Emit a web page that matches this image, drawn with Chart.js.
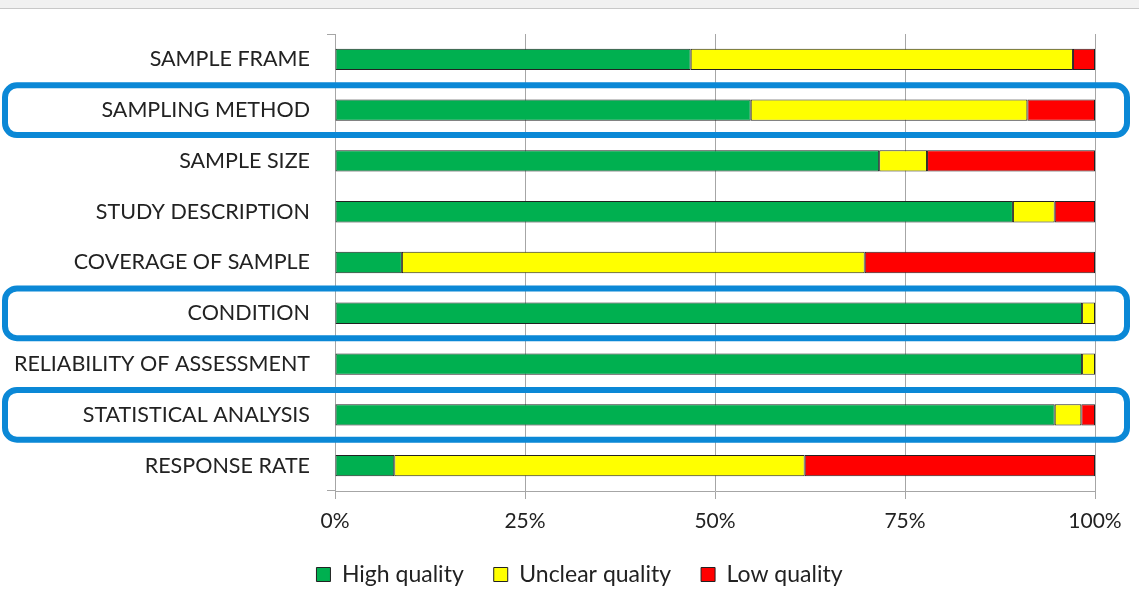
<!DOCTYPE html>
<html>
<head>
<meta charset="utf-8">
<script src="https://cdn.jsdelivr.net/npm/chart.js@4"></script>
<style>
  html, body { margin: 0; padding: 0; background: #fff; }
  #wrap { position: relative; width: 1139px; height: 605px; }
</style>
</head>
<body>
<div id="wrap"><canvas id="qualityChart"></canvas></div>
<script>
// Criteria shown on the y axis (top to bottom)
const criteria = [
  "SAMPLE FRAME",
  "SAMPLING METHOD",
  "SAMPLE SIZE",
  "STUDY DESCRIPTION",
  "COVERAGE OF SAMPLE",
  "CONDITION",
  "RELIABILITY OF ASSESSMENT",
  "STATISTICAL ANALYSIS",
  "RESPONSE RATE",
];

// Share of studies per rating, in percent
const highQuality = [46.8, 54.7, 71.6, 89.2, 8.8, 98.3, 98.3, 94.7, 7.8];
const unclearQuality = [50.3, 36.4, 6.3, 5.5, 60.9, 1.7, 1.7, 3.5, 54.0];
const lowQuality = [2.9, 8.9, 22.1, 5.3, 30.3, 0, 0, 1.8, 38.2];

// x axis ticks
const percentTicks = [0, 25, 50, 75, 100];

// Rows that are boxed in blue
const highlightedRows = ["SAMPLING METHOD", "CONDITION", "STATISTICAL ANALYSIS"];

const FONT = "Lato, 'Liberation Sans', sans-serif";
const AXIS_GRAY = "#a6a6a6";

// White page with the thin grey band at the very top
const pageBackground = {
  id: "pageBackground",
  beforeDraw(chart) {
    const { ctx, width, height } = chart;
    ctx.save();
    ctx.fillStyle = "#ffffff";
    ctx.fillRect(0, 0, width, height);
    ctx.fillStyle = "#f1f1f1";
    ctx.fillRect(0, 0, width, 8);
    ctx.fillStyle = "#c8c8c8";
    ctx.fillRect(0, 8, width, 1);
    ctx.restore();
  },
};

// The legend sits a little right of the canvas centre in the original
const legendShift = {
  id: "legendShift",
  afterLayout(chart) {
    chart.legend.left += 32;
    chart.legend.right += 32;
  },
};

// Blue rounded boxes round the highlighted rows
const rowHighlights = {
  id: "rowHighlights",
  afterDraw(chart) {
    const { ctx } = chart;
    const y = chart.scales.y;
    const half = (y.getPixelForValue(1) - y.getPixelForValue(0)) * 0.49;
    ctx.save();
    ctx.strokeStyle = "#0b88d6";
    ctx.lineWidth = 6;
    highlightedRows.forEach((name) => {
      const cy = y.getPixelForValue(criteria.indexOf(name));
      ctx.beginPath();
      ctx.roundRect(5, cy - half, 1122, half * 2, 12);
      ctx.stroke();
    });
    ctx.restore();
  },
};

function makeDataset(label, data, color) {
  return {
    label,
    data,
    backgroundColor: color,
    borderColor: "#222",
    borderWidth: 1,
    borderSkipped: false,
    barPercentage: 0.42,
    categoryPercentage: 1,
  };
}

function renderChart() {
  const ctx = document.getElementById("qualityChart").getContext("2d");
  new Chart(ctx, {
    type: "bar",
    data: {
      labels: criteria,
      datasets: [
        makeDataset("High quality", highQuality, "#00b050"),
        makeDataset("Unclear quality", unclearQuality, "#ffff00"),
        makeDataset("Low quality", lowQuality, "#ff0000"),
      ],
    },
    options: {
      indexAxis: "y",
      responsive: true,
      maintainAspectRatio: false,
      animation: false,
      layout: {
        padding: { top: 34, right: 44, bottom: 9, left: 0 },
      },
      plugins: {
        tooltip: { enabled: false },
        legend: {
          position: "bottom",
          labels: {
            color: "#222",
            font: { family: FONT, size: 23 },
            boxWidth: 14,
            boxHeight: 14,
            padding: 30,
          },
        },
      },
      scales: {
        x: {
          stacked: true,
          min: 0,
          max: 100,
          afterBuildTicks(scale) {
            scale.ticks = percentTicks.map((v) => ({ value: v }));
          },
          ticks: {
            callback: (v) => v + "%",
            color: "#222",
            font: { family: FONT, size: 21 },
            padding: 10,
          },
          grid: {
            color: AXIS_GRAY,
            tickLength: 8,
          },
          border: { color: AXIS_GRAY },
          afterFit(scale) {
            scale.height = 42;
          },
        },
        y: {
          stacked: true,
          ticks: {
            color: "#222",
            font: { family: FONT, size: 21.5 },
            padding: 17,
          },
          grid: {
            drawOnChartArea: false,
            tickLength: 8,
            tickColor: (c) =>
              c.index === 0 || c.index === undefined ? AXIS_GRAY : "transparent",
          },
          border: { color: AXIS_GRAY },
          afterFit(scale) {
            scale.width = 335;
          },
        },
      },
    },
    plugins: [pageBackground, legendShift, rowHighlights],
  });
}

document.addEventListener("DOMContentLoaded", renderChart);
</script>
</body>
</html>
